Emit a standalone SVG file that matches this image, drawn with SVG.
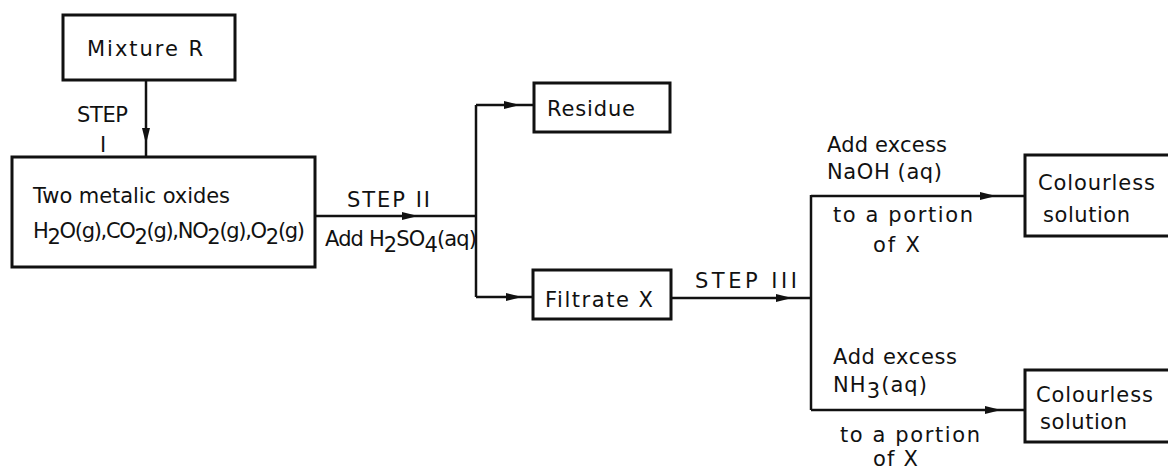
<svg xmlns="http://www.w3.org/2000/svg" width="1168" height="469" viewBox="0 0 1168 469">
<style>
.box{fill:none;stroke:#111;stroke-width:3}
.ln{fill:none;stroke:#111;stroke-width:2.5}
text{font-family:"DejaVu Sans","Liberation Sans",sans-serif;fill:#111;font-size:21px}
</style>
<defs>
<marker id="ah" viewBox="0 0 16 10" markerUnits="userSpaceOnUse" markerWidth="16" markerHeight="10" refX="8" refY="5" orient="auto">
<path d="M0,1 L16,5 L0,9 z" fill="#111"/>
</marker>
</defs>
<rect width="1168" height="469" fill="#fff"/>
<g id="connectors">
<path class="ln" d="M146,80 L146,136 L146,157" marker-mid="url(#ah)"/>
<path class="ln" d="M315,216 L410,216 L476,216" marker-mid="url(#ah)"/>
<path class="ln" d="M476,105 V297"/>
<path class="ln" d="M476,105 L512,105 L534,105" marker-mid="url(#ah)"/>
<path class="ln" d="M476,297 L514,297 L533,297" marker-mid="url(#ah)"/>
<path class="ln" d="M671,298 L784,298 L811,298" marker-mid="url(#ah)"/>
<path class="ln" d="M811,195 V410"/>
<path class="ln" d="M811,196 L988,196 L1025,196" marker-mid="url(#ah)"/>
<path class="ln" d="M811,410 L993,410 L1025,410" marker-mid="url(#ah)"/>
</g>
<g id="labels">
<text x="77" y="122" font-size="23" textLength="51">STEP</text>
<text x="100" y="152" font-size="23">I</text>
<text x="347" y="207" font-size="25" textLength="83">STEP II</text>
<text x="325" y="246" textLength="152">Add H<tspan dy="6">2</tspan><tspan dy="-6">SO</tspan><tspan dy="6">4</tspan><tspan dy="-6">(aq)</tspan></text>
<text x="695" y="288" font-size="23" textLength="102">STEP III</text>
<text x="827" y="152" textLength="120">Add excess</text>
<text x="827" y="179" textLength="115">NaOH (aq)</text>
<text x="833" y="222" textLength="140">to a portion</text>
<text x="873" y="252" textLength="47">of X</text>
<text x="833" y="364" textLength="124">Add excess</text>
<text x="833" y="392" textLength="94">NH<tspan dy="6">3</tspan><tspan dy="-6">(aq)</tspan></text>
<text x="840" y="442" textLength="140">to a portion</text>
<text x="873" y="466" textLength="45">of X</text>
</g>
<g id="mixture-r">
<rect class="box" x="63" y="15" width="172" height="65"/>
<text x="87" y="56" font-size="26" textLength="116">Mixture R</text>
</g>
<g id="oxides">
<rect class="box" x="12" y="157" width="303" height="110"/>
<text x="33" y="203" font-size="23" textLength="197">Two metalic oxides</text>
<text x="33" y="238" font-size="22" textLength="272">H<tspan dy="6">2</tspan><tspan dy="-6">O(g),CO</tspan><tspan dy="6">2</tspan><tspan dy="-6">(g),NO</tspan><tspan dy="6">2</tspan><tspan dy="-6">(g),O</tspan><tspan dy="6">2</tspan><tspan dy="-6">(g)</tspan></text>
</g>
<g id="residue">
<rect class="box" x="534" y="83" width="136" height="49"/>
<text x="547" y="116" font-size="25" textLength="88">Residue</text>
</g>
<g id="filtrate-x">
<rect class="box" x="533" y="270" width="138" height="49"/>
<text x="545" y="307" font-size="26" textLength="108">Filtrate X</text>
</g>
<g id="colourless-1">
<rect class="box" x="1025" y="155" width="150" height="81"/>
<text x="1038" y="190" font-size="22" textLength="117">Colourless</text>
<text x="1043" y="222" font-size="22" textLength="87">solution</text>
</g>
<g id="colourless-2">
<rect class="box" x="1025" y="370" width="150" height="72"/>
<text x="1036" y="402" font-size="22" textLength="117">Colourless</text>
<text x="1040" y="429" font-size="22" textLength="87">solution</text>
</g>
</svg>
